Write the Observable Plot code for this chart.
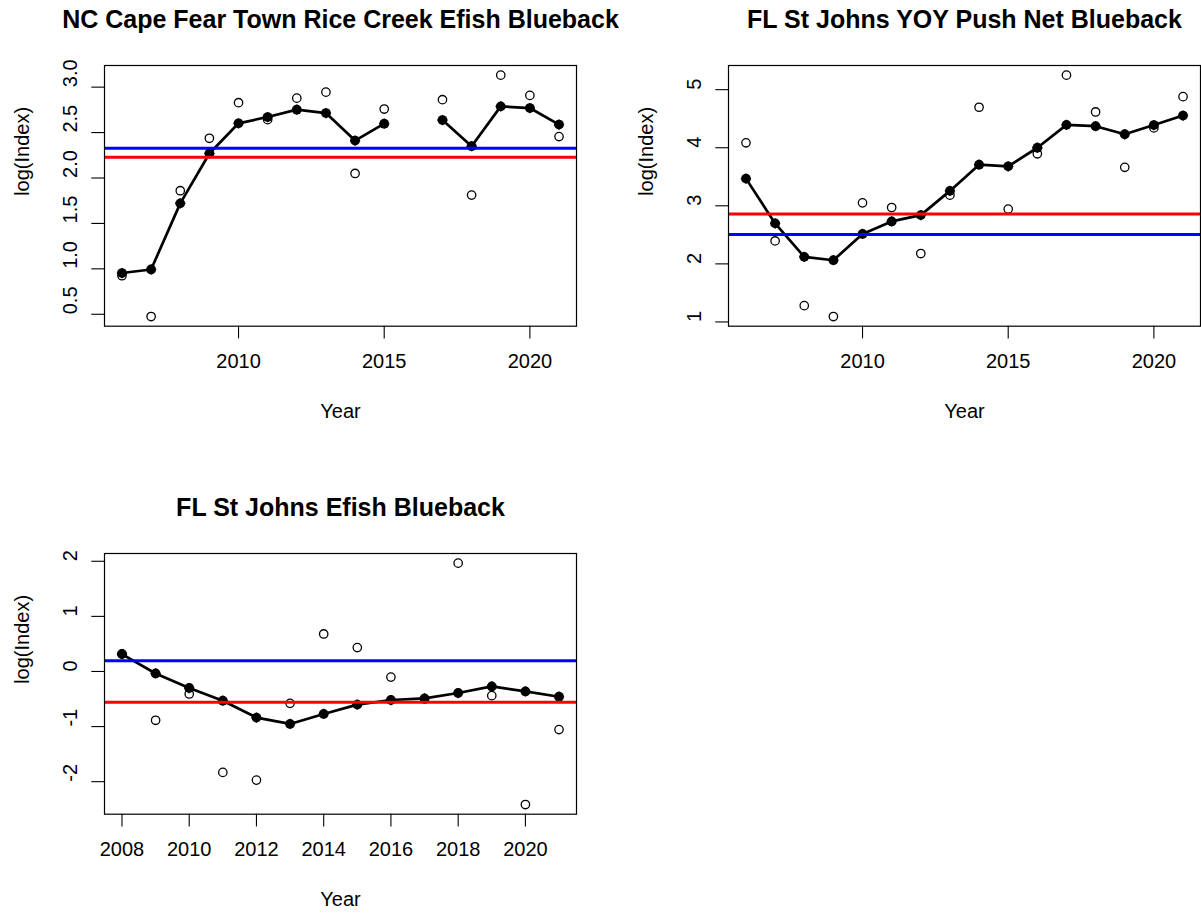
<!DOCTYPE html>
<html>
<head>
<meta charset="utf-8">
<script src="https://cdn.jsdelivr.net/npm/d3@7"></script>
<script src="https://cdn.jsdelivr.net/npm/@observablehq/plot@0.6"></script>
<style>
  html, body { margin: 0; padding: 0; background: white; overflow: hidden; }
  #wrap { position: relative; width: 1201px; height: 915px; background: white; }
  .panel { position: absolute; }
</style>
</head>
<body>
<div id="wrap"></div>
<script>
// ---------- Panel 1: NC Cape Fear Town Rice Creek Efish Blueback ----------
const title1 = "NC Cape Fear Town Rice Creek Efish Blueback";
const years1 = [2006, 2007, 2008, 2009, 2010, 2011, 2012, 2013, 2014, 2015, 2016, 2017, 2018, 2019, 2020, 2021];
const fit1 = [0.954, 0.993, 1.721, 2.270, 2.602, 2.671, 2.752, 2.715, 2.412, 2.598, null, 2.638, 2.350, 2.788, 2.770, 2.588];
const obs1 = [0.924, 0.475, 1.860, 2.437, 2.829, 2.642, 2.879, 2.945, 2.050, 2.759, null, 2.862, 1.812, 3.132, 2.909, 2.456];
const blue1 = 2.328;
const red1 = 2.229;
const xTicks1 = [2010, 2015, 2020];
const xTickLabels1 = ["2010", "2015", "2020"];
const yTicks1 = [0.5, 1.0, 1.5, 2.0, 2.5, 3.0];
const yTickLabels1 = ["0.5", "1.0", "1.5", "2.0", "2.5", "3.0"];

// ---------- Panel 2: FL St Johns YOY Push Net Blueback ----------
const title2 = "FL St Johns YOY Push Net Blueback";
const years2 = [2006, 2007, 2008, 2009, 2010, 2011, 2012, 2013, 2014, 2015, 2016, 2017, 2018, 2019, 2020, 2021];
const fit2 = [3.468, 2.697, 2.121, 2.063, 2.515, 2.731, 2.840, 3.257, 3.708, 3.680, 4.000, 4.394, 4.371, 4.232, 4.391, 4.554];
const obs2 = [4.085, 2.395, 1.281, 1.093, 3.051, 2.971, 2.178, 3.183, 4.697, 2.944, 3.896, 5.250, 4.616, 3.663, 4.342, 4.880];
const blue2 = 2.508;
const red2 = 2.858;
const xTicks2 = [2010, 2015, 2020];
const xTickLabels2 = ["2010", "2015", "2020"];
const yTicks2 = [1, 2, 3, 4, 5];
const yTickLabels2 = ["1", "2", "3", "4", "5"];

// ---------- Panel 3: FL St Johns Efish Blueback ----------
const title3 = "FL St Johns Efish Blueback";
const years3 = [2008, 2009, 2010, 2011, 2012, 2013, 2014, 2015, 2016, 2017, 2018, 2019, 2020, 2021];
const fit3 = [0.315, -0.036, -0.300, -0.530, -0.837, -0.952, -0.771, -0.602, -0.518, -0.488, -0.391, -0.271, -0.362, -0.458];
const obs3 = [0.320, -0.886, -0.409, -1.832, -1.971, -0.578, 0.681, 0.434, -0.102, -0.500, 1.966, -0.439, -2.415, -1.054];
const blue3 = 0.193;
const red3 = -0.560;
const xTicks3 = [2008, 2010, 2012, 2014, 2016, 2018, 2020];
const xTickLabels3 = ["2008", "2010", "2012", "2014", "2016", "2018", "2020"];
const yTicks3 = [-2, -1, 0, 1, 2];
const yTickLabels3 = ["-2", "-1", "0", "1", "2"];

const xLabel = "Year";
const yLabel = "log(Index)";

// R-style 4% padded extent
function padExtent(vals) {
  const v = vals.filter(d => d != null && isFinite(d));
  const lo = d3.min(v), hi = d3.max(v);
  const p = (hi - lo) * 0.04;
  return [lo - p, hi + p];
}

const FONT = "'Liberation Sans', Arial, Helvetica, sans-serif";
const H = 427;

function panel(cfg) {
  const rows = cfg.years.map((y, i) => ({
    year: y,
    fit: cfg.fit[i] == null ? NaN : cfg.fit[i],
    obs: cfg.obs[i] == null ? NaN : cfg.obs[i]
  }));
  const xDom = padExtent(cfg.years);
  const yDom = padExtent([...cfg.fit, ...cfg.obs]);
  return Plot.plot({
    width: cfg.width,
    height: H,
    marginLeft: 104,
    marginRight: cfg.marginRight,
    marginTop: 65,
    marginBottom: H - 325.7,
    x: {domain: xDom, label: null},
    y: {domain: yDom, label: null},
    style: {fontFamily: FONT, fontSize: "20px", background: "white", color: "black", overflow: "visible"},
    marks: [
      Plot.axisX({ticks: cfg.xTicks, tickSize: 12.7, tickFormat: () => "", strokeWidth: 1.1, label: null}),
      Plot.axisY({ticks: cfg.yTicks, tickSize: 12.7, tickFormat: () => "", strokeWidth: 1.1, label: null}),
      Plot.text(cfg.xTicks, {x: d => d, text: (d, i) => cfg.xTickLabels[i], frameAnchor: "bottom", dy: 41.7, fontSize: 20, fill: "black"}),
      Plot.text(cfg.yTicks, {y: d => d, text: (d, i) => cfg.yTickLabels[i], frameAnchor: "left", dx: -34, rotate: -90, fontSize: 20, fill: "black"}),
      Plot.text([xLabel], {text: d => d, frameAnchor: "bottom", dy: 91.3, fontSize: 20, fill: "black"}),
      Plot.text([yLabel], {text: d => d, frameAnchor: "left", dx: -82, rotate: -90, fontSize: 20, fill: "black"}),
      Plot.text([cfg.title], {text: d => d, frameAnchor: "top", dy: -37.5, lineAnchor: "bottom", fontSize: 25, fontWeight: "bold", fill: "black"}),
      Plot.dot(rows, {x: "year", y: "obs", r: 4.2, stroke: "black", strokeWidth: 1.3, fill: "none"}),
      Plot.line(rows, {x: "year", y: "fit", stroke: "black", strokeWidth: 2.7}),
      Plot.dot(rows, {x: "year", y: "fit", r: 4.9, fill: "black", stroke: "none"}),
      Plot.dot(rows, {x: "year", y: "fit", symbol: "plus", r: 3.4, stroke: "black", strokeWidth: 1.3}),
      Plot.ruleY([cfg.blue], {stroke: "#0000ff", strokeWidth: 3}),
      Plot.ruleY([cfg.red], {stroke: "#ff0000", strokeWidth: 3}),
      Plot.frame({stroke: "black", strokeWidth: 1.2})
    ]
  });
}

const wrap = document.getElementById("wrap");
function place(el, left, top) {
  const d = document.createElement("div");
  d.className = "panel";
  d.style.left = left + "px";
  d.style.top = top + "px";
  d.appendChild(el);
  wrap.appendChild(d);
}

place(panel({title: title1, years: years1, fit: fit1, obs: obs1, blue: blue1, red: red1,
  xTicks: xTicks1, xTickLabels: xTickLabels1, yTicks: yTicks1, yTickLabels: yTickLabels1,
  width: 600, marginRight: 24}), 0, 0);

place(panel({title: title2, years: years2, fit: fit2, obs: obs2, blue: blue2, red: red2,
  xTicks: xTicks2, xTickLabels: xTickLabels2, yTicks: yTicks2, yTickLabels: yTickLabels2,
  width: 577, marginRight: 1}), 624, 0);

place(panel({title: title3, years: years3, fit: fit3, obs: obs3, blue: blue3, red: red3,
  xTicks: xTicks3, xTickLabels: xTickLabels3, yTicks: yTicks3, yTickLabels: yTickLabels3,
  width: 600, marginRight: 24}), 0, 488.3);
</script>
</body>
</html>
